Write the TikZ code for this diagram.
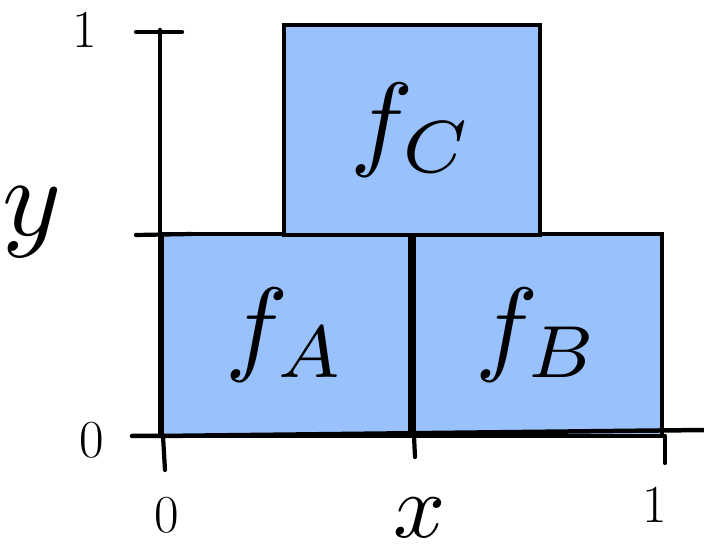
\documentclass[tikz,border=0pt]{standalone}
\usepackage{graphicx}
\usepackage{xcolor}
\usetikzlibrary{positioning}
\definecolor{cellblue}{HTML}{99C2FC}
\newcommand{\bigsym}[2]{\scalebox{#1}{$#2$}}
\tikzset{
  cell/.style ={rectangle, draw=black, line width=2.8pt, fill=cellblue,
                inner sep=0pt, font=\normalsize},
  ax/.style   ={line width=3.2pt, line cap=round},
  tick/.style ={line width=3pt, line cap=round},
  lbl/.style  ={font=\fontsize{38}{44}\selectfont, inner sep=0pt},
  axlbl/.style={font=\normalsize, inner sep=0pt},
}
\begin{document}
\begin{tikzpicture}[x=0.025cm, y=-0.025cm]
  \useasboundingbox (0,0) rectangle (704,556);

  % cells of the partition
  \node[cell, minimum width=6.2cm, minimum height=5.03cm] (fa) at (286,335) {\bigsym{7.5}{f_{A}}};
  \node[cell, minimum width=6.2cm, minimum height=5.03cm, right=0pt of fa] (fb) {\bigsym{7.5}{f_{B}}};
  \node[cell, minimum width=6.38cm, minimum height=5.25cm] (fc) at (412,130) {\bigsym{7.5}{f_{C}}};

  % axes
  \coordinate (orig) at (160,436);
  \coordinate (ytop) at (160,30);
  \coordinate (xend) at (704,430);
  \coordinate (xlft) at (132,436);
  \draw[ax] (xlft) -- (orig) -- (xend);
  \draw[ax] (orig) -- (ytop);

  % ticks
  \coordinate (ytic1a) at (136,32);  \coordinate (ytic1b) at (182,32);
  \coordinate (yticha) at (136,235); \coordinate (ytichb) at (192,234);
  \coordinate (xtic0a) at (163,436); \coordinate (xtic0b) at (165,470);
  \coordinate (xticha) at (414,436); \coordinate (xtichb) at (415,457);
  \coordinate (xtic1a) at (665,436); \coordinate (xtic1b) at (665,463);
  \draw[tick] (ytic1a) -- (ytic1b);
  \draw[tick] (yticha) -- (ytichb);
  \draw[tick] (xtic0a) -- (xtic0b);
  \draw[tick] (xticha) -- (xtichb);
  \draw[tick] (xtic1a) -- (xtic1b);

  % labels
  \node[lbl] (yone)  at (85,30)   {1};
  \node[lbl] (yzero) at (92,440)  {0};
  \node[axlbl] (ylab) at (32,222) {\bigsym{8}{y}};
  \node[lbl] (xzero) at (167,515) {0};
  \node[axlbl] (xlab) at (420,518) {\bigsym{6.5}{x}};
  \node[lbl] (xone)  at (655,505) {1};
\end{tikzpicture}
\end{document}
